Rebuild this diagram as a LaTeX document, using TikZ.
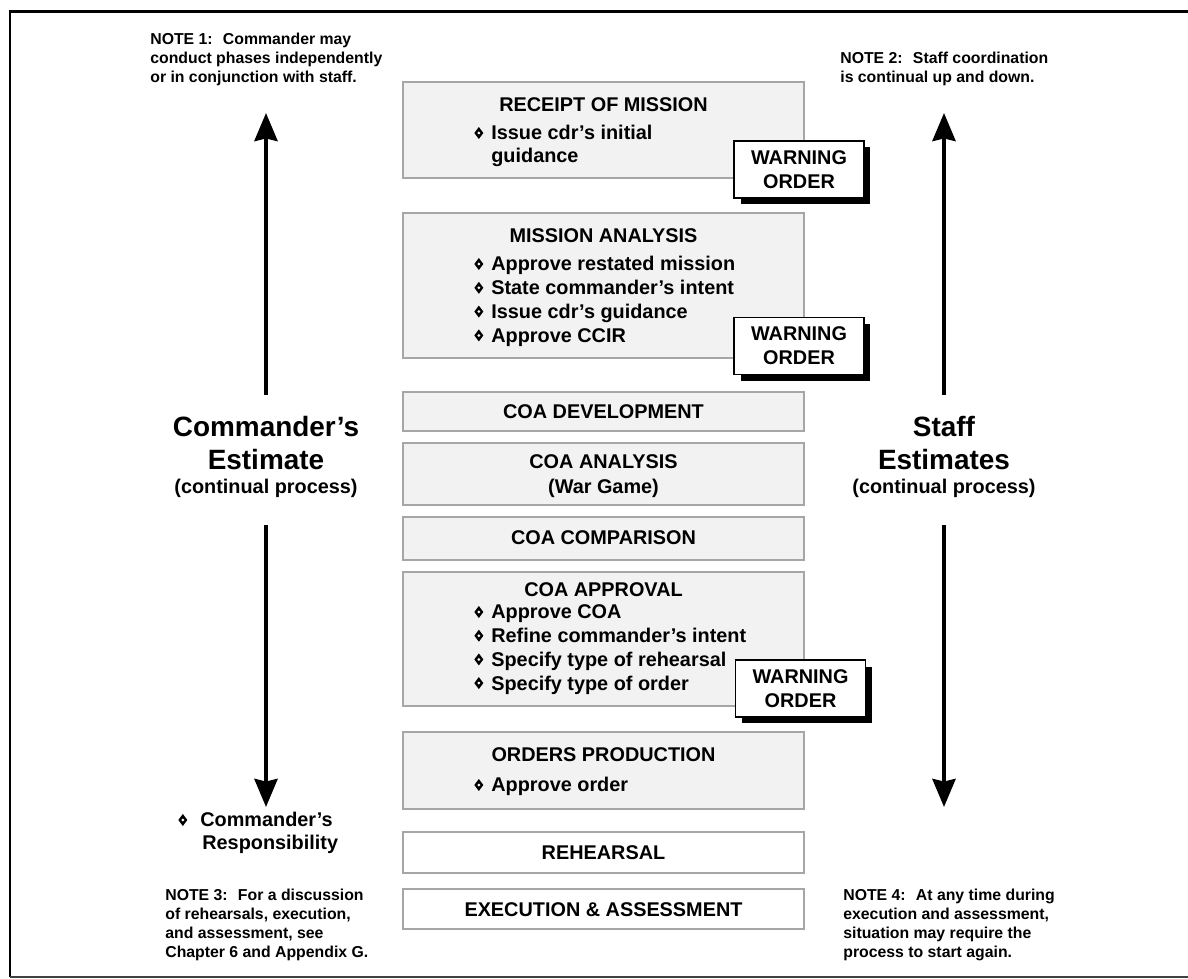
\documentclass[tikz,border=0pt]{standalone}
\usepackage{fontspec}
\setmainfont{Liberation Sans}
\usetikzlibrary{arrows.meta,shadows}

% small diamond bullet used in the lists
\newcommand{\dmd}{\makebox[0.34cm][l]{\tikz[baseline={(0,-0.14cm)}]{\fill (0,0.12cm) -- (0.09cm,0) -- (0,-0.12cm) -- (-0.09cm,0) -- cycle; \fill[white] (0,0) circle (0.03cm);}}}

\tikzset{
  phase/.style={draw=gray!70, fill=gray!10, line width=0.9pt, minimum width=8.02cm, inner sep=0pt},
  rehbox/.style={phase, fill=white},
  head/.style={anchor=base, inner sep=0pt, font=\fontsize{11.3}{13.6}\selectfont\bfseries},
  item/.style={anchor=base west, inner sep=0pt, font=\fontsize{11.3}{13.6}\selectfont\bfseries},
  warnbox/.style={draw, fill=white, line width=0.8pt, minimum width=2.6cm, minimum height=1.14cm,
    align=center, inner sep=0pt, font=\fontsize{11.3}{13.6}\selectfont\bfseries,
    drop shadow={fill=black, opacity=1, shadow xshift=0.13cm, shadow yshift=-0.13cm}},
  note/.style={anchor=north west, align=left, inner sep=0pt, font=\fontsize{9}{10.8}\selectfont\bfseries},
  big/.style={anchor=base, inner sep=0pt, font=\fontsize{15.9}{19}\selectfont\bfseries},
  bigsub/.style={anchor=base, inner sep=0pt, font=\fontsize{11.3}{13.6}\selectfont\bfseries},
  flow/.style={line width=2.3pt, -{Stealth[length=0.56cm, width=0.46cm, inset=0.05cm]}}
}

\begin{document}
\begin{tikzpicture}[x=0.02cm, y=-0.02cm]
    \useasboundingbox (0,0) rectangle (1188,979);

    % Frame
    \draw[line width=1.7pt] (1188,12) -- (10,12) -- (10,977);
    \draw[gray!50!black, line width=1pt] (10,977) -- (1188,977);

    % Notes in the corners
    \node[note] (n1) at (150,32.5) {NOTE 1:~ Commander may\\conduct phases independently\\or in conjunction with staff.};
    \node[note] (n2) at (840,51.5) {NOTE 2:~ Staff coordination\\is continual up and down.};
    \node[note] (n3) at (165,889) {NOTE 3:~ For a discussion\\of rehearsals, execution,\\and assessment, see\\Chapter 6 and Appendix G.};
    \node[note] (n4) at (843,889) {NOTE 4:~ At any time during\\execution and assessment,\\situation may require the\\process to start again.};

    % Phase boxes
    \node[phase, minimum height=1.92cm] (rcpt) at (603.5,130) {};
    \node[phase, minimum height=2.9cm] (mana) at (603.5,285.5) {};
    \node[phase, minimum height=0.78cm] (cdev) at (603.5,411.5) {};
    \node[phase, minimum height=1.24cm] (cana) at (603.5,474) {};
    \node[phase, minimum height=0.86cm] (ccmp) at (603.5,538.5) {};
    \node[phase, minimum height=2.68cm] (capp) at (603.5,639) {};
    \node[phase, minimum height=1.54cm] (oprod) at (603.5,770.5) {};
    \node[rehbox, minimum height=0.82cm] (rhsl) at (603.5,852.5) {};
    \node[rehbox, minimum height=0.8cm] (exas) at (603.5,909) {};

    % Receipt of mission
    \node[head] (rcpth) at (603.5,112) {RECEIPT OF MISSION};
    \node[item] (rcpt1) at (474,140) {\dmd Issue cdr's initial};
    \node[item] (rcpt2) at (474,163) {\hspace*{0.34cm}guidance};

    % Mission analysis
    \node[head] (manah) at (603.5,243) {MISSION ANALYSIS};
    \foreach \txt [count=\i from 0] in {Approve restated mission, State commander's intent, Issue cdr's guidance, Approve CCIR}
        \node[item] (mana\i) at (474,{271+23.8*\i}) {\dmd \txt};

    % COA steps
    \node[head] (cdevh) at (603.5,419) {COA DEVELOPMENT};
    \node[head] (canah) at (603.5,469) {COA ANALYSIS};
    \node[head] (canas) at (603.5,494) {(War Game)};
    \node[head] (ccmph) at (603.5,545) {COA COMPARISON};
    \node[head] (capph) at (603.5,597) {COA APPROVAL};
    \foreach \txt [count=\i from 0] in {Approve COA, Refine commander's intent, Specify type of rehearsal, Specify type of order}
        \node[item] (capp\i) at (474,{619+23.7*\i}) {\dmd \txt};

    % Orders, rehearsal, execution
    \node[head] (oprodh) at (603.5,762) {ORDERS PRODUCTION};
    \node[item] (oprod1) at (474,792) {\dmd Approve order};
    \node[head] (rhslh) at (603.5,860) {REHEARSAL};
    \node[head] (exash) at (603.5,917) {EXECUTION \& ASSESSMENT};

    % Warning orders
    \node[warnbox] (wo1) at (799,169.5) {WARNING\\ORDER};
    \node[warnbox] (wo2) at (799,346) {WARNING\\ORDER};
    \node[warnbox] (wo3) at (800.5,688.5) {WARNING\\ORDER};

    % Commander's estimate
    \node[big] (cdr1) at (266,437) {Commander's};
    \node[big] (cdr2) at (266,470) {Estimate};
    \node[bigsub] (cdr3) at (266,494) {(continual process)};
    \coordinate (ctop) at (266,113);
    \coordinate (cup) at (266,395);
    \coordinate (cdown) at (266,525);
    \coordinate (cbot) at (266,807);
    \draw[flow] (cup) -- (ctop);
    \draw[flow] (cdown) -- (cbot);

    % Staff estimates
    \node[big] (stf1) at (944,437) {Staff};
    \node[big] (stf2) at (944,470) {Estimates};
    \node[bigsub] (stf3) at (944,494) {(continual process)};
    \coordinate (stop) at (944,113);
    \coordinate (sup) at (944,395);
    \coordinate (sdown) at (944,525);
    \coordinate (sbot) at (944,807);
    \draw[flow] (sup) -- (stop);
    \draw[flow] (sdown) -- (sbot);

    % Commander's responsibility
    \node[bigsub, anchor=base west] (resp1) at (178,827) {\dmd\hspace{0.1cm}Commander's};
    \node[bigsub, anchor=base west] (resp2) at (202,850) {Responsibility};
\end{tikzpicture}
\end{document}
